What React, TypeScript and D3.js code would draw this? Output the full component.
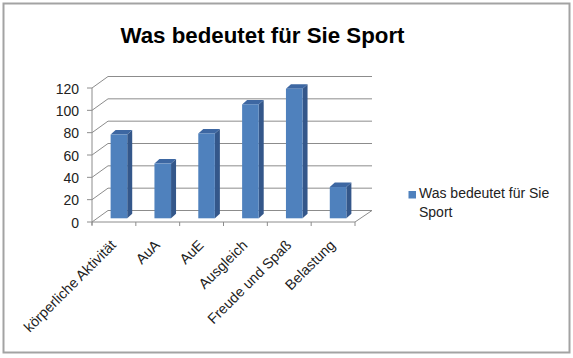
import React from "react";
import * as d3 from "d3";

const categories = ["körperliche Aktivität", "AuA", "AuE", "Ausgleich", "Freude und Spaß", "Belastung"];
const values = [75, 49, 76, 102, 116, 28];
const yTicks = [0, 20, 40, 60, 80, 100, 120];
const seriesName = "Was bedeutet für Sie Sport";
const legendLines = ["Was bedeutet für Sie", "Sport"];

const W = 573;
const H = 358;
const font = "'Liberation Sans', Arial, sans-serif";

export default function App() {
  const x = d3.scaleBand<string>().domain(categories).range([92, 355]).padding(0);
  const y = d3.scaleLinear().domain([0, 120]).range([222, 88]);
  const depthX = 16;
  const depthY = -11.5;
  const planeDx = 5;
  const planeDy = -3.7;
  const yb = d3.scaleLinear().domain([0, 120]).range([222 + planeDy, 88 + planeDy]);
  const barW = 16.6;
  const bdx = 5;
  const bdy = -4.5;
  const grid = "#8c8c8c";

  return (
    <svg width={W} height={H} style={{ position: "absolute", left: 0, top: 0, background: "#fff" }}>
      <rect x={3.5} y={3.5} width={566} height={349} fill="#fff" stroke="#a3a3a3" strokeWidth={2} />
      <text x={262.5} y={43} textAnchor="middle" fontFamily={font} fontWeight="bold" fontSize={22.3} fill="#000">
        {seriesName}
      </text>

      {yTicks.map((t) => {
        const fy = y(t);
        const by = fy + depthY;
        return (
          <g key={t}>
            <polyline
              points={`92,${fy} ${92 + depthX},${by} 372,${by}`}
              fill="none"
              stroke={grid}
              strokeWidth={1}
            />
            <line x1={87} x2={92} y1={fy} y2={fy} stroke={grid} />
            <text x={79} y={fy + 5.5} textAnchor="end" fontFamily={font} fontSize={14} fill="#222">
              {t}
            </text>
          </g>
        );
      })}
      <line x1={92} x2={92} y1={y(120)} y2={y(0) + 3} stroke={grid} />
      <line x1={92} x2={355} y1={y(0)} y2={y(0)} stroke={grid} />
      <line x1={355} x2={355 + depthX + 1} y1={y(0)} y2={y(0) + depthY} stroke={grid} />
      {categories.map((c) => (
        <line key={"t" + c} x1={x(c)!} x2={x(c)!} y1={y(0)} y2={y(0) + 4} stroke={grid} />
      ))}
      <line x1={355} x2={355} y1={y(0)} y2={y(0) + 4} stroke={grid} />

      {categories.map((c, i) => {
        const x0 = x(c)! + planeDx + (x.bandwidth() - barW) / 2;
        const x1 = x0 + barW;
        const top = yb(values[i]);
        const bot = yb(0);
        return (
          <g key={"b" + c}>
            <polygon
              points={`${x1},${top} ${x1 + bdx},${top + bdy} ${x1 + bdx},${bot + bdy} ${x1},${bot}`}
              fill="#34578a"
            />
            <polygon
              points={`${x0},${top} ${x0 + bdx},${top + bdy} ${x1 + bdx},${top + bdy} ${x1},${top}`}
              fill="#3d67a2"
            />
            <rect x={x0} y={top} width={barW} height={bot - top} fill="#4f81bd" />
          </g>
        );
      })}

      {categories.map((c) => {
        const ax = x(c)! + x.bandwidth() / 2 + 3;
        const ay = 246;
        return (
          <text
            key={"l" + c}
            x={ax}
            y={ay}
            textAnchor="end"
            transform={`rotate(-45 ${ax} ${ay})`}
            fontFamily={font}
            fontSize={14.3}
            fill="#222"
          >
            {c}
          </text>
        );
      })}

      <rect x={408.5} y={191} width={7.5} height={7.5} fill="#4f81bd" />
      {legendLines.map((l, i) => (
        <text key={l} x={419} y={198.3 + i * 18.4} fontFamily={font} fontSize={14} fill="#222">
          {l}
        </text>
      ))}
    </svg>
  );
}
